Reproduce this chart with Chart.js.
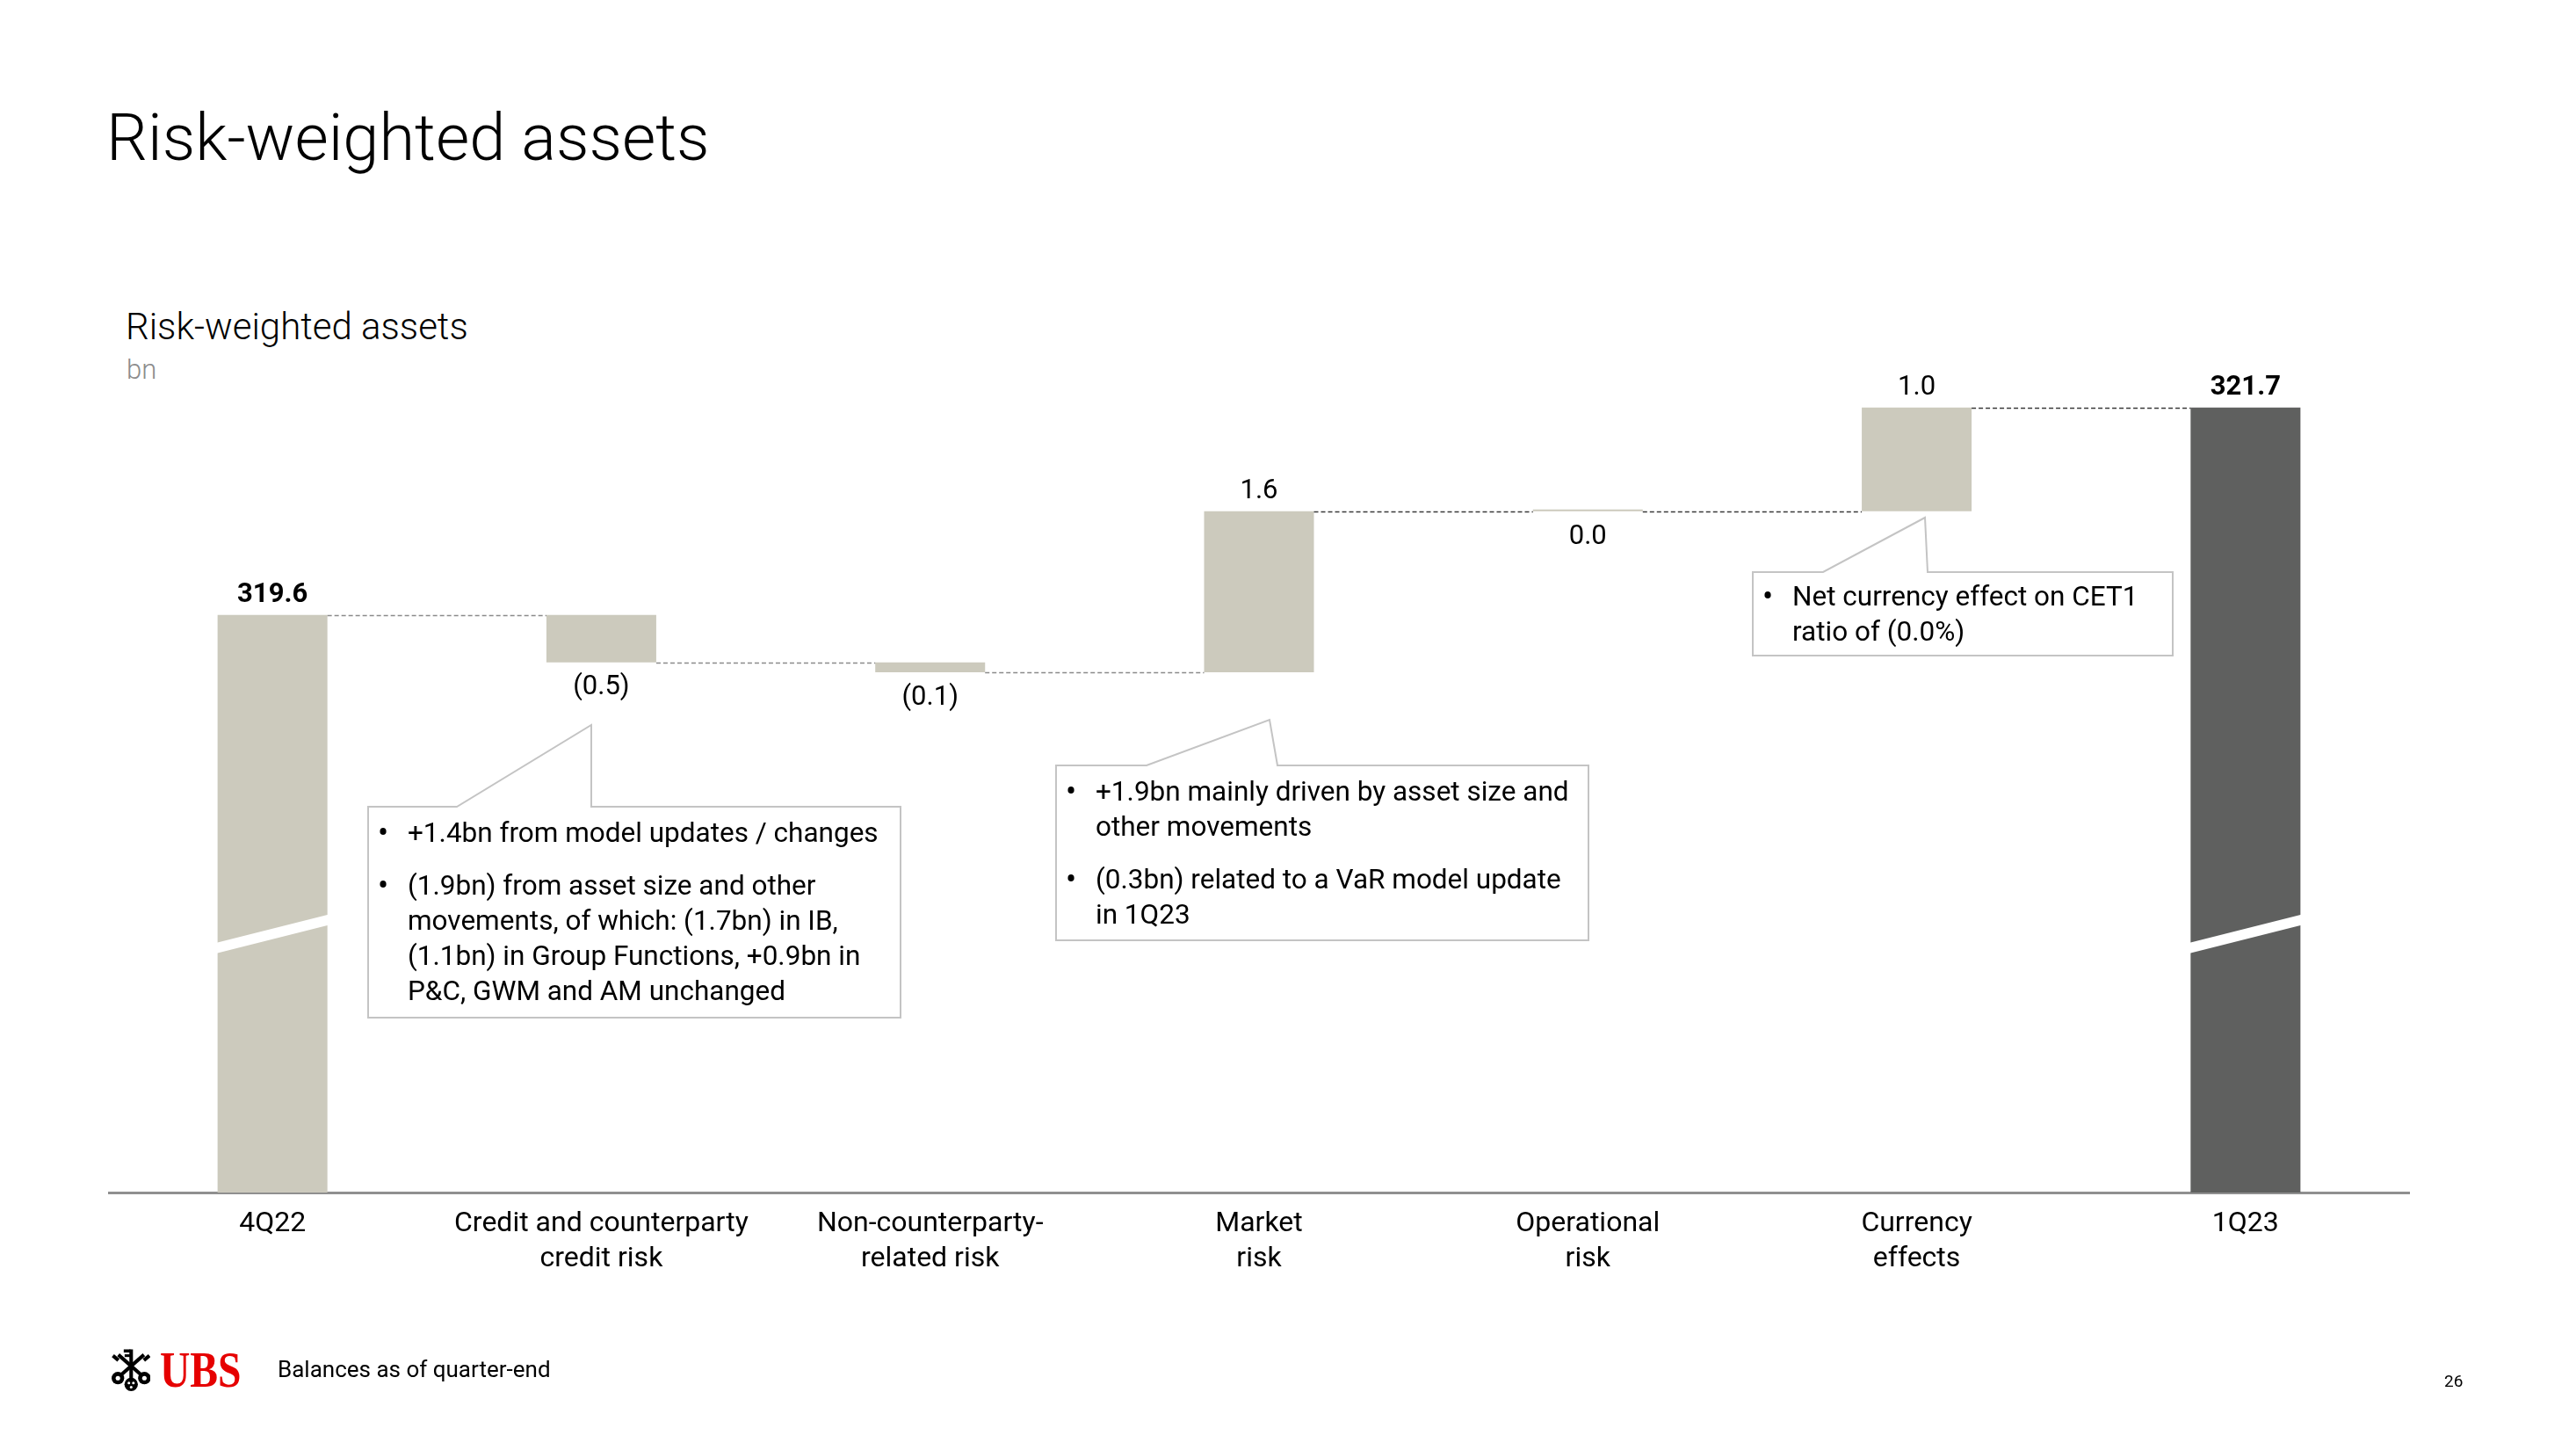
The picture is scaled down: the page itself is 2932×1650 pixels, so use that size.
<!DOCTYPE html>
<html>
<head>
<meta charset="utf-8">
<title>Risk-weighted assets</title>
<script src="https://cdn.jsdelivr.net/npm/chart.js@4.4.0/dist/chart.umd.min.js"></script>
<style>
  html, body { margin: 0; padding: 0; background: #fff; }
  body {
    width: 2932px; height: 1650px; position: relative; overflow: hidden;
    font-family: Roboto, "Open Sans", sans-serif; font-weight: 400; color: #000;
  }
  .abs { position: absolute; white-space: nowrap; }
  #title { left: 121px; top: 120px; font-size: 74px; line-height: 1; font-weight: 300; }
  #subtitle { left: 143px; top: 351px; font-size: 42px; line-height: 1; font-weight: 300; }
  #unit { left: 144px; top: 405px; font-size: 31px; line-height: 1; color: #8c8c8c; font-weight: 300; }
  #chartBox { position: absolute; left: 123px; top: 374px; width: 2620px; height: 1095px; }
  #bubbles { position: absolute; left: 0; top: 0; }
  .callout { position: absolute; font-size: 31.5px; line-height: 40px; }
  .callout .pt { position: relative; padding-left: 32px; white-space: nowrap; }
  .callout .pt + .pt { margin-top: 20px; }
  .callout .pt::before { content: "\2022"; position: absolute; left: -2px; top: 0; font-size: 36px; }
  #logoKeys { left: 125px; top: 1528px; }
  #logoText { left: 182px; top: 1530px; font-family: "Liberation Serif", serif; font-weight: 700;
              font-size: 58px; line-height: 1; color: #e60000; transform: scaleX(0.82); transform-origin: left top; }
  #footnote { left: 316px; top: 1545px; font-size: 26px; line-height: 1; }
  #pageNo { left: 2782px; top: 1562px; font-size: 19px; line-height: 1; }
</style>
</head>
<body>
<div id="title" class="abs">Risk-weighted assets</div>
<div id="subtitle" class="abs">Risk-weighted assets</div>
<div id="unit" class="abs">bn</div>

<div id="chartBox"><canvas id="rwaChart"></canvas></div>

<!-- callout outlines -->
<svg id="bubbles" width="2932" height="1650">
  <g fill="#fff" stroke="#c4c4c4" stroke-width="2">
    <polygon points="419,918 520,918 673,825 673,918 1025,918 1025,1158 419,1158"/>
    <polygon points="1202,871 1305,871 1445,819 1454,871 1808,871 1808,1070 1202,1070"/>
    <polygon points="1995,651 2075,651 2191,589 2194,651 2473,651 2473,746 1995,746"/>
  </g>
</svg>

<div class="callout" style="left:432px; top:928px;">
  <div class="pt">+1.4bn from model updates / changes</div>
  <div class="pt">(1.9bn) from asset size and other<br>movements, of which: (1.7bn) in IB,<br>(1.1bn) in Group Functions, +0.9bn in<br>P&amp;C, GWM and AM unchanged</div>
</div>
<div class="callout" style="left:1215px; top:881px;">
  <div class="pt">+1.9bn mainly driven by asset size and<br>other movements</div>
  <div class="pt">(0.3bn) related to a VaR model update<br>in 1Q23</div>
</div>
<div class="callout" style="left:2008px; top:659px;">
  <div class="pt">Net currency effect on CET1<br>ratio of (0.0%)</div>
</div>

<svg id="logoKeys" class="abs" width="46" height="62" viewBox="0 0 180 200">
  <g stroke="#000" stroke-width="16" fill="none">
    <line x1="95" y1="8" x2="95" y2="140"/>
    <line x1="38" y1="32" x2="152" y2="132"/>
    <line x1="152" y1="32" x2="38" y2="132"/>
  </g>
  <g fill="#000">
    <rect x="62" y="8" width="30" height="14"/><rect x="66" y="30" width="26" height="12"/>
    <rect x="10" y="38" width="32" height="16" transform="rotate(40 26 46)"/>
    <rect x="148" y="38" width="32" height="16" transform="rotate(-40 164 46)"/>
    <circle cx="95" cy="164" r="30"/><circle cx="36" cy="136" r="28"/><circle cx="154" cy="136" r="28"/>
  </g>
  <g fill="#fff">
    <circle cx="85" cy="158" r="6"/><circle cx="105" cy="158" r="6"/><circle cx="95" cy="176" r="6"/>
    <circle cx="36" cy="136" r="10"/><circle cx="154" cy="136" r="10"/>
  </g>
</svg>
<div id="logoText" class="abs">UBS</div>
<div id="footnote" class="abs">Balances as of quarter-end</div>
<div id="pageNo" class="abs">26</div>

<script>
// ── Data ────────────────────────────────────────────────────────

const categories = [
  ["4Q22"],
  ["Credit and counterparty", "credit risk"],
  ["Non-counterparty-", "related risk"],
  ["Market", "risk"],
  ["Operational", "risk"],
  ["Currency", "effects"],
  ["1Q23"],
];

const openingTotal = 319.6;
const closingTotal = 321.7;

// bar heights as measured on the slide; printed labels are the rounded figures
const movements      = [-0.48, -0.10, 1.63, 0.0, 1.05];
const movementLabels = ["(0.5)", "(0.1)", "1.6", "0.0", "1.0"];

const axisMin = 313.75;   // axis is broken, bars start here
const axisMax = 322.5;
const breakAt = 316.37;   // where the white slash cuts the total bars

const BEIGE = "#cccabd";
const DARK  = "#5f605f";
const FONT  = "Roboto, 'Open Sans', sans-serif";

// ── Build floating bars ─────────────────────────────────────────

function buildWaterfall() {
  const bars = [[axisMin, openingTotal]];
  const levels = [openingTotal];
  let run = openingTotal;
  movements.forEach(m => {
    const next = run + m;
    bars.push([Math.min(run, next), Math.max(run, next)]);
    run = next;
    levels.push(run);
  });
  bars.push([axisMin, closingTotal]);
  levels.push(closingTotal);
  const labels = [openingTotal.toFixed(1), ...movementLabels, closingTotal.toFixed(1)];
  return { bars, levels, labels };
}

const { bars, levels, labels: barLabels } = buildWaterfall();
const lastIdx = bars.length - 1;

// ── Connectors, breaks and value labels ─────────────────────────

const waterfallExtras = {
  id: "waterfallExtras",
  afterDatasetsDraw(chart) {
    const { ctx, scales: { y } } = chart;
    const meta = chart.getDatasetMeta(0);

    ctx.save();
    // dashed connectors between bars
    ctx.lineWidth = 1.5;
    ctx.setLineDash([5, 3]);
    for (let i = 0; i < meta.data.length - 1; i++) {
      const a = meta.data[i], b = meta.data[i + 1];
      const py = Math.round(y.getPixelForValue(levels[i])) + 0.5;
      ctx.strokeStyle = i >= 3 ? "#3a3a3a" : "#8a8a8a";
      ctx.beginPath();
      ctx.moveTo(a.x + a.width / 2, py);
      ctx.lineTo(b.x - b.width / 2, py);
      ctx.stroke();
    }
    ctx.setLineDash([]);

    // axis break slash on the two totals
    const by = y.getPixelForValue(breakAt);
    [0, lastIdx].forEach(i => {
      const el = meta.data[i];
      const l = el.x - el.width / 2 - 1, r = el.x + el.width / 2 + 1;
      ctx.fillStyle = "#fff";
      ctx.beginPath();
      ctx.moveTo(l, by + 10);
      ctx.lineTo(r, by - 22);
      ctx.lineTo(r, by - 10);
      ctx.lineTo(l, by + 22);
      ctx.closePath();
      ctx.fill();
    });

    // value labels
    ctx.fillStyle = "#000";
    ctx.textAlign = "center";
    ctx.textBaseline = "middle";
    meta.data.forEach((el, i) => {
      const isTotal = i === 0 || i === lastIdx;
      ctx.font = (isTotal ? "700 " : "400 ") + "31px " + FONT;
      const [lo, hi] = bars[i];
      const below = !isTotal && movements[i - 1] <= 0;
      const py = below ? y.getPixelForValue(lo) + 29 : y.getPixelForValue(hi) - 23;
      ctx.fillText(barLabels[i], el.x, py);
    });
    ctx.restore();
  },
};

// ── Chart ───────────────────────────────────────────────────────

new Chart(document.getElementById("rwaChart"), {
  type: "bar",
  data: {
    labels: categories,
    datasets: [{
      data: bars,
      backgroundColor: bars.map((_, i) => (i === lastIdx ? DARK : BEIGE)),
      borderWidth: 0,
      barPercentage: 0.334,
      categoryPercentage: 1,
      minBarLength: 2,
    }],
  },
  options: {
    responsive: true,
    maintainAspectRatio: false,
    animation: false,
    layout: { padding: 0 },
    plugins: {
      legend: { display: false },
      tooltip: { enabled: false },
    },
    scales: {
      x: {
        grid: { display: false, drawTicks: false },
        border: { display: true, color: "#8f8f8f", width: 3 },
        ticks: {
          color: "#000",
          font: { family: FONT, size: 32, weight: "400", lineHeight: 1.25 },
          padding: 16,
          maxRotation: 0,
          autoSkip: false,
        },
      },
      y: {
        display: false,
        min: axisMin,
        max: axisMax,
      },
    },
  },
  plugins: [waterfallExtras],
});
</script>
</body>
</html>
